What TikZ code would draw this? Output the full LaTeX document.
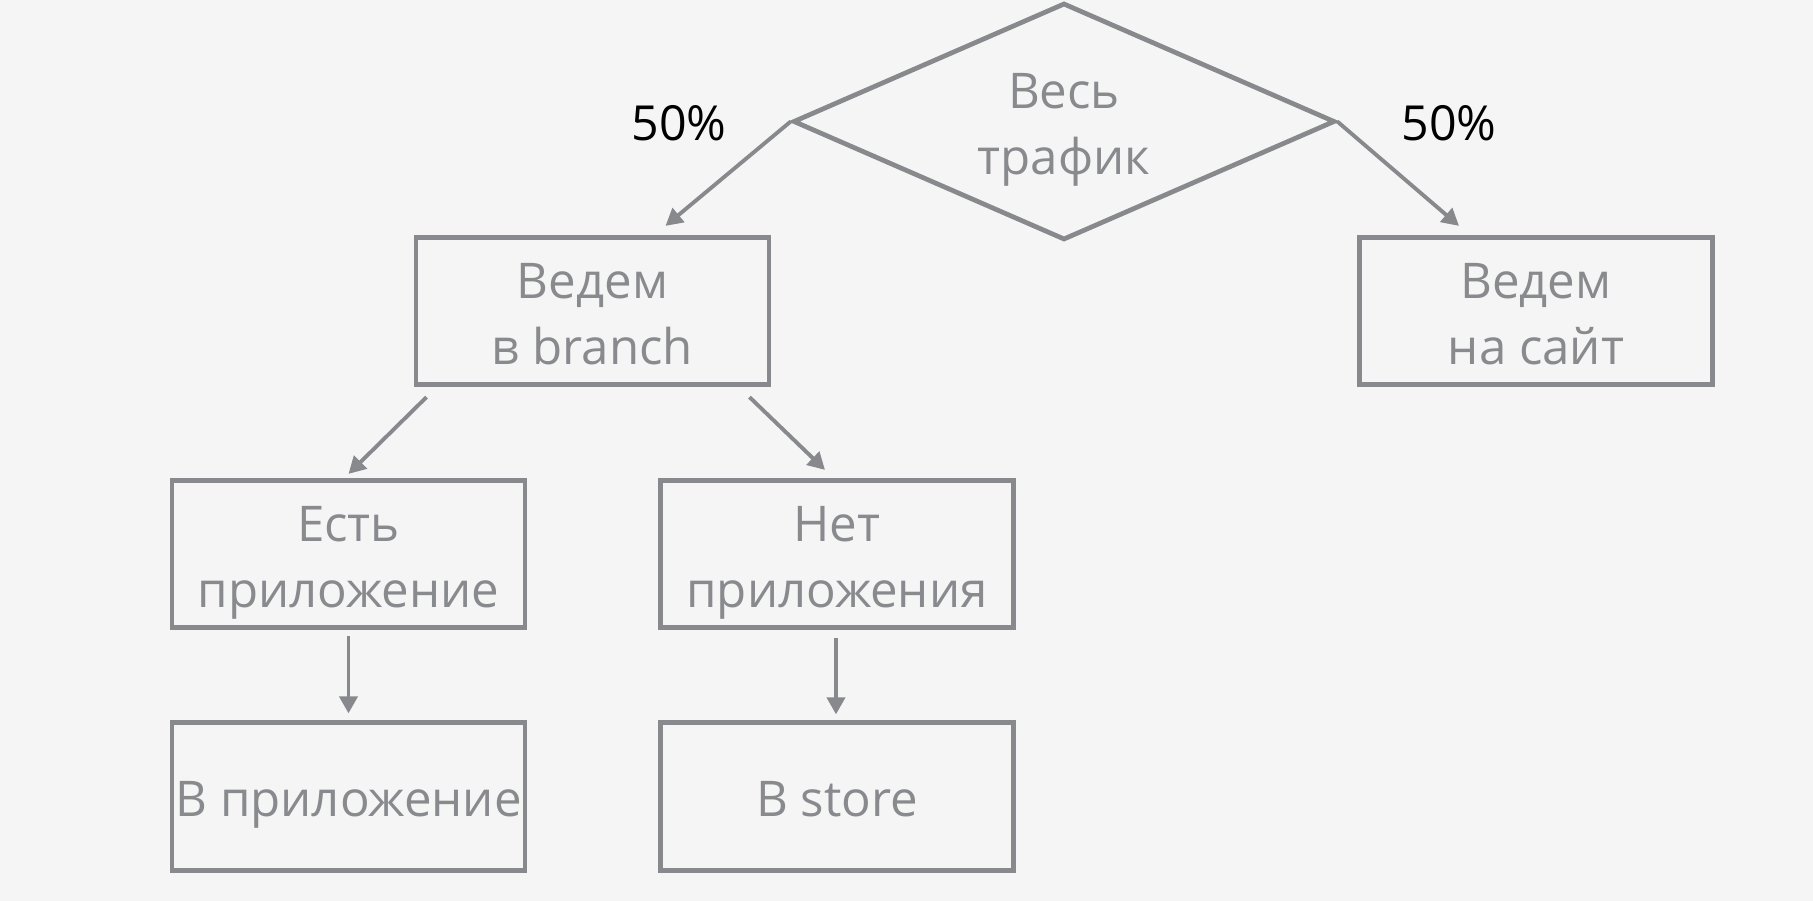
\documentclass[tikz,border=0pt]{standalone}
\usepackage{fontspec}
\setmainfont{Open Sans}
\usepackage{tikz}
\usetikzlibrary{shapes.geometric,arrows.meta,calc}
\definecolor{FlowGray}{HTML}{88898D}
\definecolor{FlowText}{HTML}{898A8E}
\definecolor{FlowBack}{HTML}{F5F5F5}

\tikzset{
  flowbox/.style={draw=FlowGray,line width=2.7pt,minimum width=7.06cm,minimum height=2.95cm,
    inner sep=0pt,align=center,text=FlowText,font=\fontsize{28}{37.5}\selectfont,
    text height=2.36cm,text depth=0.23cm},
  flowone/.style={flowbox,text height=1.03cm},
  flowdia/.style={draw=FlowGray,line width=2.7pt,shape=diamond,aspect=2.29,
    minimum width=10.84cm,minimum height=4.74cm,
    inner sep=0pt,align=center,text=FlowText,font=\fontsize{28}{37.5}\selectfont,
    text height=2.34cm,text depth=0.23cm},
  flowpct/.style={text=black,font=\fontsize{27.5}{30}\selectfont,inner sep=0pt},
  flowarrow/.style={draw=FlowGray,line width=2.2pt,-{Triangle[length=0.34cm,width=0.36cm]}}
}

\begin{document}
\begin{tikzpicture}[x=0.02cm,y=-0.02cm]
\path[use as bounding box,fill=FlowBack] (0,0) rectangle (1813,901);
\node[flowdia] (traffic) at (1064,121.5) {Весь\\трафик};
\node[flowbox] (branch) at (592.5,311) {Ведем\\в branch};
\node[flowbox] (site) at (1536,311) {Ведем\\на сайт};
\node[flowbox] (hasapp) at (348.5,554) {Есть\\приложение};
\node[flowbox] (noapp) at (837,554) {Нет\\приложения};
\node[flowone] (toapp) at (348.5,796.5) {В приложение};
\node[flowone] (store) at (837,796.5) {В store};
\node[flowpct] (leftpct) at (679,123.5) {50\%};
\node[flowpct] (rightpct) at (1449,123.5) {50\%};
\draw[flowarrow] (traffic.west) -- ($(branch.north)+(73,-9)$);
\draw[flowarrow] (traffic.east) -- ($(site.north)+(-77,-9)$);
\draw[flowarrow] ($(branch.south)+(-166,10)$) -- ($(hasapp.north)+(0,-4)$);
\draw[flowarrow] ($(branch.south)+(157,10)$) -- ($(noapp.north)+(-12,-8)$);
\draw[flowarrow] ($(hasapp.south)+(0,6)$) -- ($(toapp.north)+(0,-7)$);
\draw[flowarrow] ($(noapp.south)+(-1,8)$) -- ($(store.north)+(-1,-6)$);
\end{tikzpicture}
\end{document}
